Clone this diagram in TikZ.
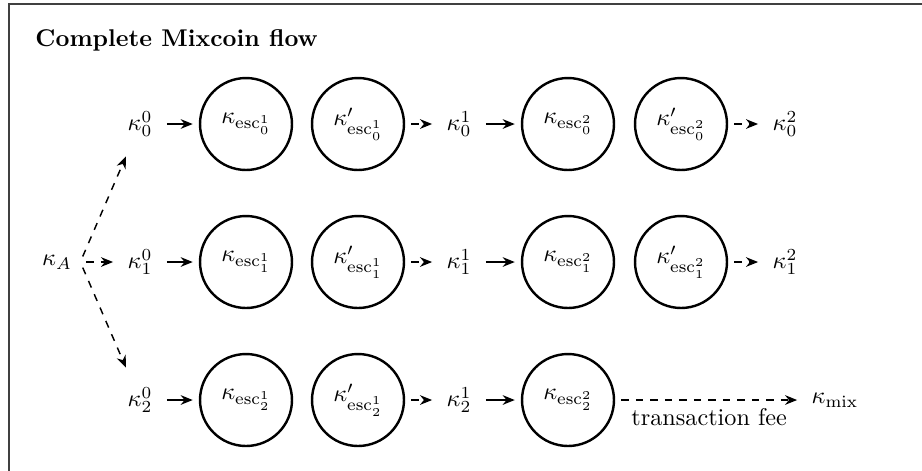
\documentclass[tikz,border=0pt]{standalone}
\usetikzlibrary{arrows.meta}
\begin{document}
\begin{tikzpicture}[x=0.4132pt,y=-0.4132pt,
  key/.style={inner sep=3.3pt},
  escrow/.style={circle,draw,line width=1pt,minimum size=38pt,inner sep=0pt},
  flow/.style={-{Stealth[length=5pt,width=4pt]},line width=0.6pt,shorten <=2.5pt,shorten >=2.5pt},
  hop/.style={flow,dashed}]
\useasboundingbox (0,0) rectangle (922,470);
% frame around the slide
\draw[black!75,line width=0.5pt] (9,480) -- (9,4) -- (935,4);
\node[anchor=base west,font=\bfseries,inner sep=0pt] (title) at (35,46) {Complete Mixcoin flow};

% source key
\node[key] (kA) at (57,262) {$\kappa_A$};

% three mixing chains
\foreach \r/\y in {0/124,1/262,2/400}{
  \node[key] (k\r0) at (140,\y) {$\kappa^0_{\r}$};
  \node[escrow] (a\r1) at (246,\y) {$\kappa_{\mathrm{esc}^1_{\r}}$};
  \node[escrow] (b\r1) at (358,\y) {$\kappa'_{\mathrm{esc}^1_{\r}}$};
  \node[key] (k\r1) at (459,\y) {$\kappa^1_{\r}$};
  \node[escrow] (a\r2) at (568,\y) {$\kappa_{\mathrm{esc}^2_{\r}}$};
  \draw[flow] (k\r0) -- (a\r1);
  \draw[hop] (b\r1) -- (k\r1);
  \draw[flow] (k\r1) -- (a\r2);
}
\foreach \r/\y in {0/124,1/262}{
  \node[escrow] (b\r2) at (681,\y) {$\kappa'_{\mathrm{esc}^2_{\r}}$};
  \node[key] (k\r2) at (785,\y) {$\kappa^2_{\r}$};
  \draw[hop] (b\r2) -- (k\r2);
}

% fee output
\node[key] (kmix) at (835,400) {$\kappa_{\mathrm{mix}}$};
\draw[hop] (a22) -- node[below] {transaction fee} (kmix);

% split of the source key
\draw[hop,shorten >=5pt] (kA.east) -- (k00);
\draw[hop] (kA.east) -- (k10);
\draw[hop,shorten >=5pt] (kA.east) -- (k20);
\end{tikzpicture}
\end{document}
